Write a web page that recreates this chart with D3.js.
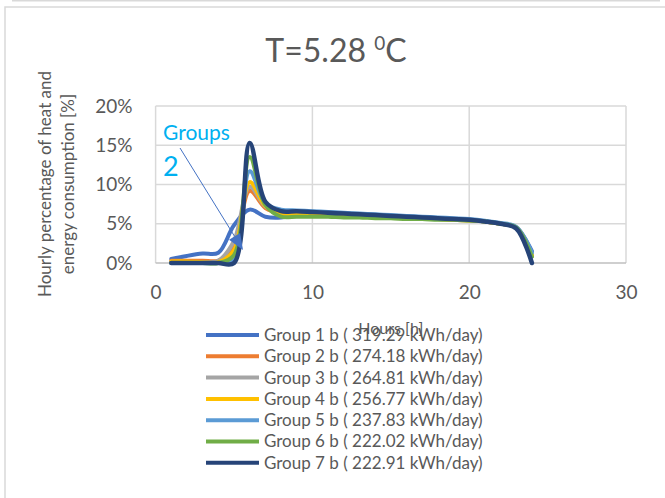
<!DOCTYPE html>
<html>
<head>
<meta charset="utf-8">
<script src="https://cdn.jsdelivr.net/npm/d3@7"></script>
<style>
  html, body { margin: 0; padding: 0; background: #fff; }
  svg { display: block; }
  text { font-family: Lato, "Open Sans", sans-serif; fill: #595959; }
</style>
</head>
<body>
<div id="chart"></div>
<script>
// ---------- data ----------
const hours = [1,2,3,4,5,6,7,8,9,10,11,12,13,14,15,16,17,18,19,20,21,22,23,24];
const group1 = [0.5,0.9,1.2,1.3,4.8,6.8,5.9,5.8,6.2,6.4,6.4,6.3,6.2,6.1,6.0,5.9,5.8,5.7,5.6,5.5,5.3,5.0,4.5,1.5];
const group2 = [0.3,0.3,0.3,0.3,2.0,9.2,7.0,6.3,6.2,6.2,6.1,6.1,6.0,5.9,5.8,5.8,5.7,5.6,5.5,5.5,5.3,5.0,4.5,0.9];
const group3 = [0.1,0.1,0.1,0.3,2.8,9.7,7.2,6.4,6.2,6.1,6.0,6.0,5.9,5.9,5.8,5.7,5.6,5.6,5.5,5.4,5.3,5.0,4.5,1.0];
const group4 = [0.2,0.2,0.1,0.1,1.6,10.3,7.3,6.4,6.2,6.1,6.0,6.0,5.9,5.9,5.8,5.7,5.6,5.6,5.5,5.4,5.3,5.0,4.5,1.0];
const group5 = [0,0,0,0,0.6,11.7,7.6,6.8,6.7,6.6,6.5,6.4,6.3,6.2,6.1,6.0,5.9,5.8,5.7,5.6,5.4,5.1,4.6,1.3];
const group6 = [0,0,0,0,1.0,13.5,7.4,5.9,5.9,5.9,5.9,5.8,5.8,5.7,5.7,5.6,5.6,5.5,5.5,5.4,5.3,5.0,4.5,0.8];
const group7 = [0,0,0,0,0,15.3,7.8,6.6,6.6,6.5,6.4,6.3,6.2,6.1,6.0,5.9,5.8,5.7,5.6,5.5,5.3,5.0,4.4,0];
const seriesNames = [
  "Group 1 b ( 319.29 kWh/day)",
  "Group 2 b ( 274.18 kWh/day)",
  "Group 3 b ( 264.81 kWh/day)",
  "Group 4 b ( 256.77 kWh/day)",
  "Group 5 b ( 237.83 kWh/day)",
  "Group 6 b ( 222.02 kWh/day)",
  "Group 7 b ( 222.91 kWh/day)"
];
const seriesValues = [group1, group2, group3, group4, group5, group6, group7];
const colors = ["#4472C4","#ED7D31","#A5A5A5","#FFC000","#5B9BD5","#70AD47","#264478"];
const xTicks = [0,10,20,30];
const yTicks = [0,5,10,15,20];

// ---------- layout ----------
const W = 665, H = 498;
const plot = {left: 155.6, right: 626, top: 106, bottom: 263};

const svg = d3.select("#chart").append("svg").attr("width", W).attr("height", H);

// chart frame
svg.append("line").attr("x1", 12).attr("x2", 660).attr("y1", 0.5).attr("y2", 0.5)
  .attr("stroke", "#d9d9d9").attr("stroke-width", 2);
svg.append("rect").attr("x", 5).attr("y", 7).attr("width", 680).attr("height", 520)
  .attr("fill", "#fff").attr("stroke", "#d9d9d9").attr("stroke-width", 1.5);

const x = d3.scaleLinear().domain([0, 30]).range([plot.left, plot.right]);
const y = d3.scaleLinear().domain([0, 20]).range([plot.bottom, plot.top]);

// gridlines
svg.append("g").selectAll("line.h").data(yTicks.filter(d => d > 0)).join("line")
  .attr("x1", plot.left).attr("x2", plot.right)
  .attr("y1", d => y(d)).attr("y2", d => y(d))
  .attr("stroke", "#d9d9d9").attr("stroke-width", 1.5);
svg.append("g").selectAll("line.v").data(xTicks).join("line")
  .attr("x1", d => x(d)).attr("x2", d => x(d))
  .attr("y1", plot.top).attr("y2", plot.bottom)
  .attr("stroke", "#d9d9d9").attr("stroke-width", 1.5);
// baseline axis
svg.append("line").attr("x1", plot.left).attr("x2", plot.right)
  .attr("y1", y(0)).attr("y2", y(0)).attr("stroke", "#bfbfbf").attr("stroke-width", 1.5);

// axes labels via d3 axes
const yAxis = d3.axisLeft(y).tickValues(yTicks).tickFormat(d => d + "%").tickSize(0).tickPadding(0);
const gy = svg.append("g").attr("transform", `translate(${plot.left - 23},0)`).call(yAxis);
gy.select(".domain").remove();
gy.selectAll("text").attr("font-size", 19).attr("fill", "#595959")
  .style("font-family", "Lato, 'Open Sans', sans-serif");

const xAxis = d3.axisBottom(x).tickValues(xTicks).tickFormat(d3.format("d")).tickSize(0).tickPadding(0);
const gx = svg.append("g").attr("transform", `translate(0,${plot.bottom + 22})`).call(xAxis);
gx.select(".domain").remove();
gx.selectAll("text").attr("font-size", 19).attr("fill", "#595959")
  .style("font-family", "Lato, 'Open Sans', sans-serif");

// series lines
const line = d3.line().x((d, i) => x(hours[i])).y(d => y(d)).curve(d3.curveCatmullRom.alpha(0.5));
svg.append("g").selectAll("path").data(seriesValues).join("path")
  .attr("d", d => line(d))
  .attr("fill", "none")
  .attr("stroke", (d, i) => colors[i])
  .attr("stroke-width", (d, i) => i === 6 ? 4.5 : 4)
  .attr("stroke-linejoin", "round").attr("stroke-linecap", "round");

// annotation
svg.append("text").attr("x", 163).attr("y", 140).attr("font-size", 21)
  .style("fill", "#00B0F0").text("Groups");
svg.append("text").attr("x", 163).attr("y", 176).attr("font-size", 27)
  .style("fill", "#00B0F0").text("2");
const ax1 = 180, ay1 = 148, ax2 = 243, ay2 = 250;
const ang = Math.atan2(ay2 - ay1, ax2 - ax1);
const hl = 16, hw = 6.5;
const bx = ax2 - hl * Math.cos(ang), by = ay2 - hl * Math.sin(ang);
svg.append("line").attr("x1", ax1).attr("y1", ay1).attr("x2", bx).attr("y2", by)
  .attr("stroke", "#4472C4").attr("stroke-width", 1);
svg.append("path").attr("d",
  `M${ax2},${ay2}L${bx + hw * Math.sin(ang)},${by - hw * Math.cos(ang)}L${bx - hw * Math.sin(ang)},${by + hw * Math.cos(ang)}Z`)
  .attr("fill", "#4472C4");

// title
const title = svg.append("text").attr("x", 336).attr("y", 62).attr("text-anchor", "middle")
  .attr("font-size", 32);
title.append("tspan").text("T=5.28 ");
title.append("tspan").attr("font-size", 19).attr("dy", -12).text("0");
title.append("tspan").attr("dy", 12).text("C");

// y axis title
const yt = svg.append("text").attr("transform", "translate(0,184) rotate(-90)")
  .attr("text-anchor", "middle").attr("font-size", 17);
yt.append("tspan").attr("x", 0).attr("y", 51).text("Hourly percentage of heat and");
yt.append("tspan").attr("x", 0).attr("y", 74).text("energy consumption [%]");

// x axis title
svg.append("text").attr("x", (plot.left + plot.right) / 2).attr("y", 334)
  .attr("text-anchor", "middle").attr("font-size", 16).text("Hours [h]");

// legend
const lg = svg.append("g").selectAll("g").data(seriesNames).join("g")
  .attr("transform", (d, i) => `translate(0,${335 + i * 21.3})`);
lg.append("line").attr("x1", 206).attr("x2", 259).attr("y1", 0).attr("y2", 0)
  .attr("stroke", (d, i) => colors[i]).attr("stroke-width", 4);
lg.append("text").attr("x", 264).attr("y", 0).attr("dy", "0.35em")
  .attr("font-size", 17).text(d => d);
</script>
</body>
</html>
